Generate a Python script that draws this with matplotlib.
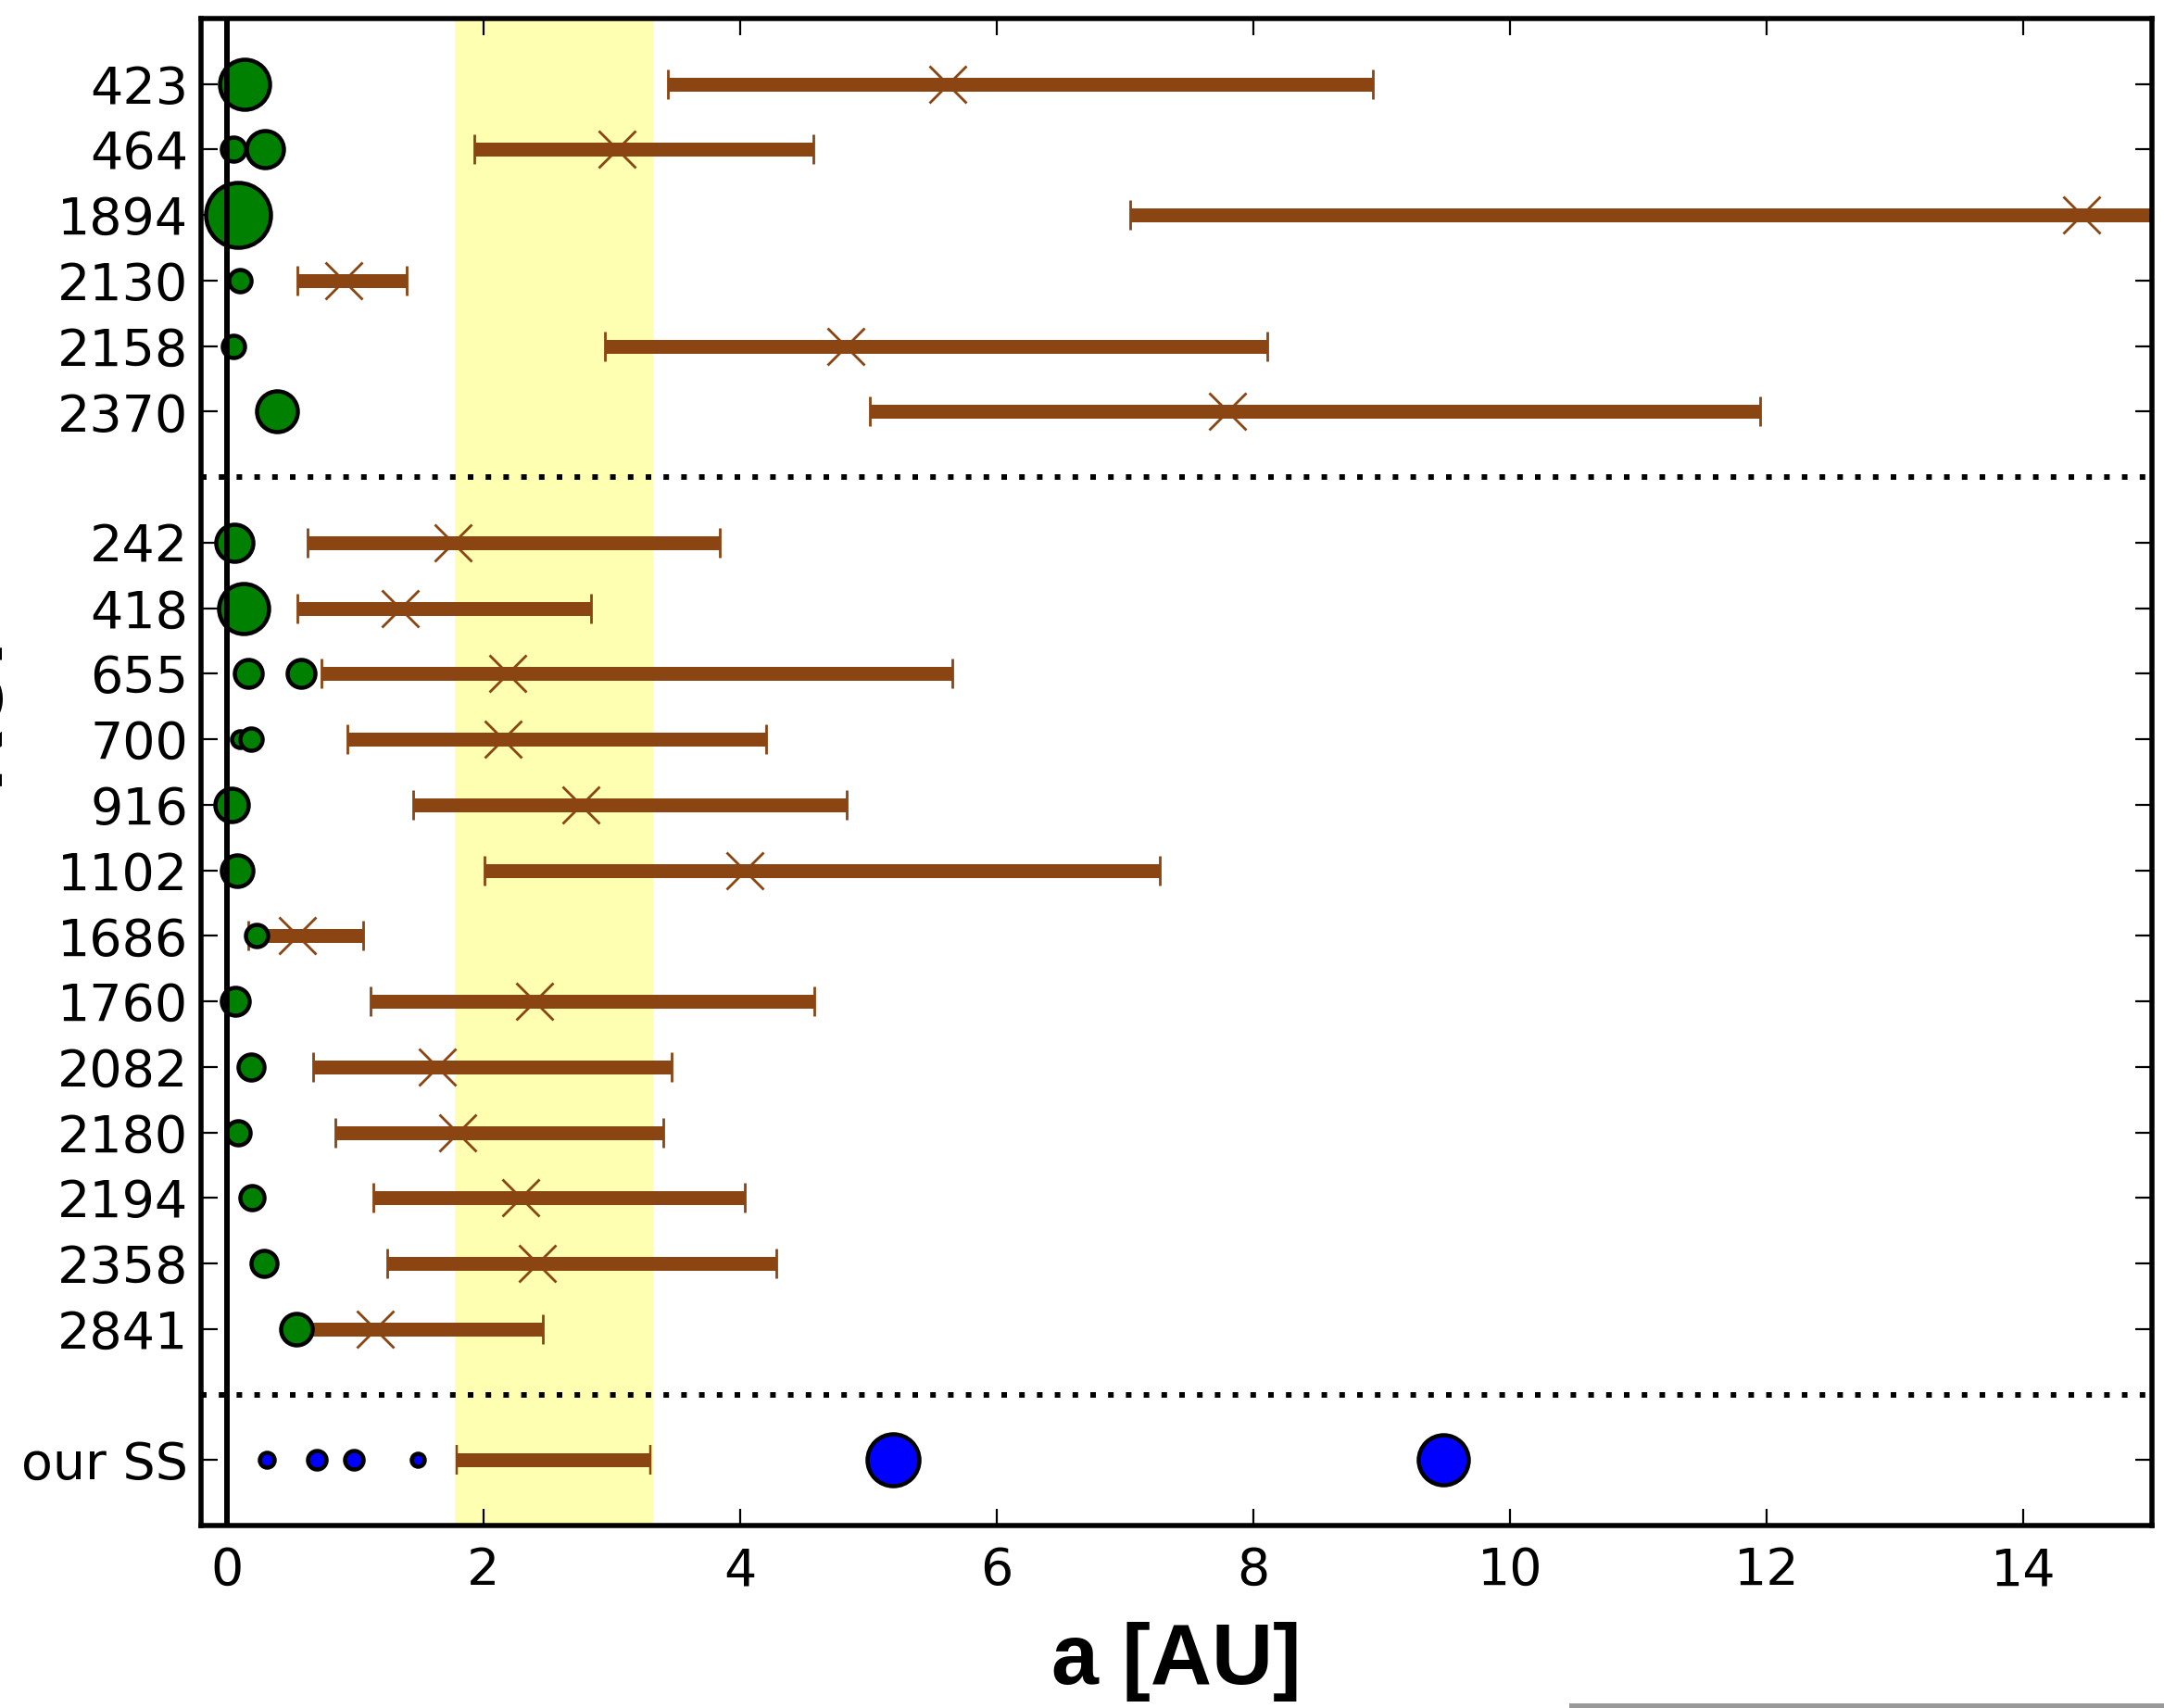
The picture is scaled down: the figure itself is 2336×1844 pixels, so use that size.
import numpy as np
import matplotlib
matplotlib.use('Agg')
import matplotlib.pyplot as plt
from matplotlib.patches import Rectangle

# row labels, top to bottom (dotted separators sit between the groups)
koi_top = ['423', '464', '1894', '2130', '2158', '2370']
koi_bottom = ['242', '418', '655', '700', '916', '1102', '1686', '1760',
              '2082', '2180', '2194', '2358', '2841']
ss_label = 'our SS'

# planets per row: semi-major axis [AU] and symbol radius
planet_a = [[0.14], [0.05, 0.30], [0.09], [0.10], [0.05], [0.39],
            [0.06], [0.13], [0.17, 0.58], [0.10, 0.19], [0.04], [0.08], [0.23],
            [0.07], [0.19], [0.09], [0.20], [0.29], [0.54]]
planet_r = [[27], [13, 20], [35], [12], [12], [22],
            [20], [27], [15, 15], [9, 12], [18], [17], [12],
            [15], [14], [13], [13], [14], [17]]

# habitable-zone ranges: inner edge, marked value, outer edge [AU]
hz_lo = [3.44, 1.93, 7.04, 0.55, 2.95, 5.01,
         0.63, 0.55, 0.74, 0.94, 1.45, 2.01, 0.17, 1.12, 0.67, 0.85, 1.14, 1.25, 0.54]
hz_mid = [5.62, 3.04, 14.45, 0.91, 4.82, 7.80,
          1.76, 1.35, 2.19, 2.15, 2.76, 4.04, 0.55, 2.40, 1.64, 1.80, 2.29, 2.42, 1.16]
hz_hi = [8.93, 4.57, 20.0, 1.40, 8.11, 11.95,
         3.84, 2.84, 5.65, 4.20, 4.83, 7.27, 1.06, 4.58, 3.47, 3.40, 4.04, 4.28, 2.46]

# solar system
ss_a = [0.31, 0.70, 0.99, 1.49, 5.19, 9.48]
ss_r = [8, 10, 10, 7, 28, 27]
ss_zone = [1.79, 3.30]

yellow_band = [1.78, 3.32]

brown = '#8b4513'
dpi = 200
px2pt = 72.0 / dpi

fig = plt.figure(figsize=(2336 / dpi, 1844 / dpi), dpi=dpi)
ax = fig.add_axes([217 / 2336, 1 - 1647 / 1844, (2323 - 217) / 2336, (1647 - 20) / 1844])

# y positions of the rows
y_top = list(range(len(koi_top)))
y_bot = list(range(len(koi_top) + 1, len(koi_top) + 1 + len(koi_bottom)))
y_ss = y_bot[-1] + 2
y_rows = y_top + y_bot
sep = [len(koi_top), y_bot[-1] + 1]

ax.axvspan(yellow_band[0], yellow_band[1], color='yellow', alpha=0.3, lw=0, zorder=0)

for i, y in enumerate(y_rows):
	lo, mid, hi = hz_lo[i], hz_mid[i], hz_hi[i]
	ax.errorbar([mid], [y], xerr=[[mid - lo], [hi - mid]], fmt='x', color=brown,
		ecolor=brown, elinewidth=15 * px2pt, capsize=16 * px2pt, capthick=2.5 * px2pt,
		markersize=40 * px2pt, markeredgewidth=2.8 * px2pt, zorder=2)
	for a, r in zip(planet_a[i], planet_r[i]):
		ax.plot([a], [y], 'o', color='green', markersize=2 * r * px2pt,
			markeredgecolor='black', markeredgewidth=4.5 * px2pt, zorder=3)

zc = 0.5 * (ss_zone[0] + ss_zone[1])
ax.errorbar([zc], [y_ss], xerr=[[zc - ss_zone[0]], [ss_zone[1] - zc]], fmt='none',
	ecolor=brown, elinewidth=15 * px2pt, capsize=16 * px2pt, capthick=2.5 * px2pt, zorder=2)
for a, r in zip(ss_a, ss_r):
	ax.plot([a], [y_ss], 'o', color='blue', markersize=2 * r * px2pt,
		markeredgecolor='black', markeredgewidth=4.5 * px2pt, zorder=3)

for s in sep:
	ax.axhline(s, color='black', ls=(0, (1, 2.2)), lw=6 * px2pt, zorder=4)
ax.axvline(0, color='black', lw=6 * px2pt, zorder=4)

ax.set_xlim(-0.2, 15)
ax.set_ylim(y_ss + 1, -1)
ax.set_xticks(np.arange(0, 15, 2))
ax.set_yticks(y_rows + [y_ss])
ax.set_yticklabels(koi_top + koi_bottom + [ss_label])

for sp in ax.spines.values():
	sp.set_linewidth(5.5 * px2pt)
ax.tick_params(direction='in', length=18 * px2pt, width=2.2 * px2pt, top=True, right=True,
	labelsize=20, zorder=5)
ax.tick_params(axis='x', pad=8)
ax.tick_params(axis='y', pad=5)

ax.set_xlabel('a [AU]', fontsize=33, fontweight='bold', family='Liberation Sans', labelpad=10)

# y label sits almost entirely outside the figure, only a sliver shows
fig.text(-3 / 2336, 1 - 767 / 1844, 'KOI', rotation=90, rotation_mode='anchor',
	ha='center', va='baseline', fontsize=33, fontweight='bold', family='Liberation Sans')

fig.add_artist(Rectangle((1694 / 2336, 0), 1 - 1694 / 2336, 5 / 1844,
	transform=fig.transFigure, color='#999999', lw=0))

fig.savefig('out.png', dpi=dpi)
